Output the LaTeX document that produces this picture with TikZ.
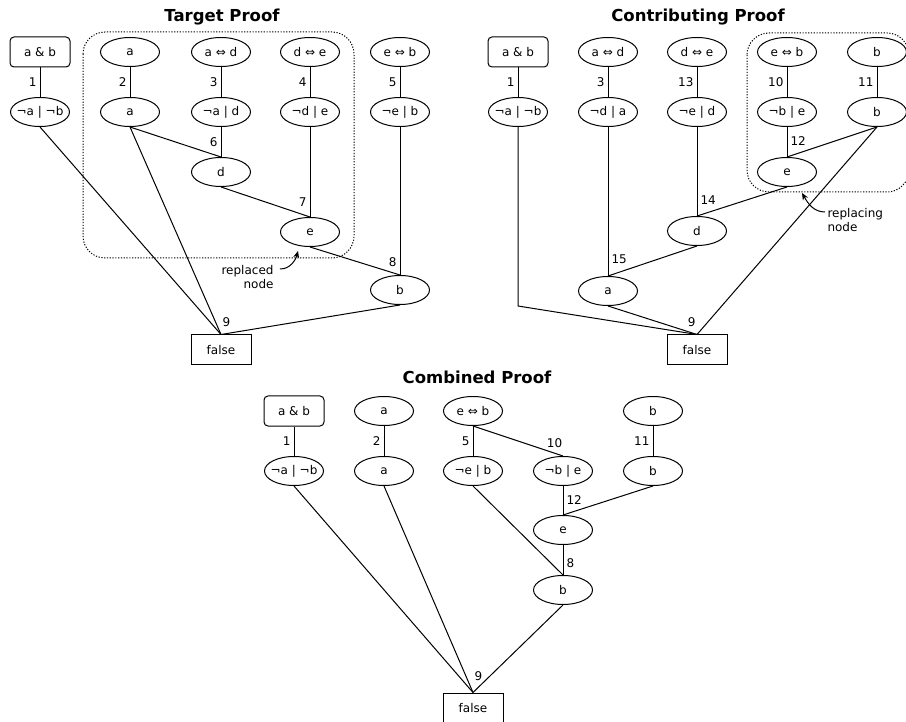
\documentclass[tikz,border=0pt]{standalone}
\usepackage{fontspec}
\setmainfont{DejaVu Sans}
\usepackage{tikz}
\usetikzlibrary{positioning, arrows, arrows.meta, shapes, shapes.geometric}
\newcommand{\pffont}{\fontsize{12}{14}\selectfont}
\newcommand{\pftitlefont}{\fontsize{16.5}{19}\selectfont\bfseries}
\tikzset{pfbox/.style={draw, rectangle, rounded corners=4, minimum width=60pt, minimum height=30pt, inner sep=0pt, font=\pffont}}
\tikzset{pffalse/.style={draw, rectangle, minimum width=60pt, minimum height=30pt, inner sep=0pt, font=\pffont}}
\tikzset{pfell/.style={draw, ellipse, minimum width=59pt, minimum height=29pt, inner xsep=-3pt, inner ysep=0pt, font=\pffont}}
\tikzset{ptitle/.style={font=\pftitlefont, inner sep=0pt}}
\tikzset{lbl/.style={inner sep=3pt, font=\pffont}}
\tikzset{region/.style={dash pattern=on 1.2pt off 1.6pt, line width=1pt, rounded corners=22}}
\tikzset{pfnote/.style={font=\pffont, inner sep=0pt}}
\tikzset{pointer/.style={draw, -{Stealth[length=7pt, width=6pt]}, line width=1pt}}

\begin{document}
\begin{tikzpicture}[x=1pt, y=-1pt, line width=1pt]
    \useasboundingbox (0,0) rectangle (906,722);

    % target proof
    \node[ptitle] (ttitle) at (222,17) {Target Proof};
    \draw[region] (83,32) rectangle (354,258);
    \node[pfbox] (t0) at (40,52) {a \& b};
    \node[pfell] (t1) at (40,112) {¬a | ¬b};
    \node[pfell] (ta) at (130,52) {a};
    \node[pfell] (tab) at (130,112) {a};
    \node[pfell] (tad) at (221,52) {a ⇔ d};
    \node[pfell] (tnad) at (221,112) {¬a | d};
    \node[pfell] (tde) at (310,52) {d ⇔ e};
    \node[pfell] (tnde) at (310,112) {¬d | e};
    \node[pfell] (teb) at (400,52) {e ⇔ b};
    \node[pfell] (tneb) at (400,112) {¬e | b};
    \node[pfell] (td) at (221,172) {d};
    \node[pfell] (te) at (310,232) {e};
    \node[pfell] (tb) at (400,290) {b};
    \node[pffalse] (tf) at (221,350) {false};

    \draw (t0.south) -- node[lbl, left] {1} (t1.north);
    \draw (ta.south) -- node[lbl, left] {2} (tab.north);
    \draw (tad.south) -- node[lbl, left] {3} (tnad.north);
    \draw (tde.south) -- node[lbl, left] {4} (tnde.north);
    \draw (teb.south) -- node[lbl, left] {5} (tneb.north);
    \draw (tnad.south) -- node[lbl, left] {6} (td.north);
    \draw (tab.south) -- (td.north);
    \draw (tnde.south) -- node[lbl, left, pos=0.84] {7} (te.north);
    \draw (td.south) -- (te.north);
    \draw (tneb.south) -- node[lbl, left, pos=0.91] {8} (tb.north);
    \draw (te.south) -- (tb.north);
    \draw (t1.south) -- (tf.north);
    \draw (tab.south) -- node[lbl, pos=1, anchor=south west, inner sep=1pt, yshift=6pt] {9} (tf.north);
    \draw (tb.south) -- (tf.north);

    \node[pfnote, align=right, anchor=east] (tnote) at (274,277) {replaced\\node};
    \coordinate (tmark) at (298,251);
    \draw[pointer] ([xshift=6pt, yshift=8pt]tnote.east) to[out=0, in=-105] (tmark);

    % contributing proof
    \node[ptitle] (ctitle) at (698,17) {Contributing Proof};
    \draw[region] (747,33) rectangle (909,192);
    \node[pfbox] (c0) at (518,52) {a \& b};
    \node[pfell] (c1) at (518,112) {¬a | ¬b};
    \node[pfell] (cad) at (608,52) {a ⇔ d};
    \node[pfell] (cnda) at (608,112) {¬d | a};
    \node[pfell] (cde) at (697,52) {d ⇔ e};
    \node[pfell] (cned) at (697,112) {¬e | d};
    \node[pfell] (ceb) at (787,52) {e ⇔ b};
    \node[pfell] (cnbe) at (787,112) {¬b | e};
    \node[pfell] (cb) at (877,52) {b};
    \node[pfell] (cbb) at (877,112) {b};
    \node[pfell] (ce) at (787,172) {e};
    \node[pfell] (cd) at (697,231) {d};
    \node[pfell] (ca) at (608,291) {a};
    \node[pffalse] (cf) at (697,350) {false};

    \draw (c0.south) -- node[lbl, left] {1} (c1.north);
    \draw (cad.south) -- node[lbl, left] {3} (cnda.north);
    \draw (cde.south) -- node[lbl, left] {13} (cned.north);
    \draw (ceb.south) -- node[lbl, left] {10} (cnbe.north);
    \draw (cb.south) -- node[lbl, left] {11} (cbb.north);
    \draw (cnbe.south) -- node[lbl, right, pos=0.47] {12} (ce.north);
    \draw (cbb.south) -- (ce.north);
    \draw (cned.south) -- node[lbl, right, pos=0.82] {14} (cd.north);
    \draw (ce.south) -- (cd.north);
    \draw (cnda.south) -- node[lbl, right, pos=0.89] {15} (ca.north);
    \draw (cd.south) -- (ca.north);
    \draw (c1.south) -- (c1.south |- ca.south) -- (cf.north);
    \draw (ca.south) -- node[lbl, pos=1, anchor=south east, inner sep=1pt, yshift=6pt] {9} (cf.north);
    \draw (cbb.south) -- (cf.north);

    \node[pfnote, align=left, anchor=west] (cnote) at (827,220) {replacing\\node};
    \coordinate (cmark) at (802,193);
    \draw[pointer] ([xshift=-2pt, yshift=8pt]cnote.west) to[out=180, in=-60] (cmark);

    % combined proof
    \node[ptitle] (ktitle) at (477,377) {Combined Proof};
    \node[pfbox] (k0) at (294,411) {a \& b};
    \node[pfell] (k1) at (294,471) {¬a | ¬b};
    \node[pfell] (ka) at (384,411) {a};
    \node[pfell] (kab) at (384,471) {a};
    \node[pfell] (keb) at (473,411) {e ⇔ b};
    \node[pfell] (kneb) at (473,471) {¬e | b};
    \node[pfell] (knbe) at (563,471) {¬b | e};
    \node[pfell] (kb) at (653,411) {b};
    \node[pfell] (kbb) at (653,471) {b};
    \node[pfell] (ke) at (563,530) {e};
    \node[pfell] (kbf) at (563,590) {b};
    \node[pffalse] (kf) at (473,708) {false};

    \draw (k0.south) -- node[lbl, left] {1} (k1.north);
    \draw (ka.south) -- node[lbl, left] {2} (kab.north);
    \draw (keb.south) -- node[lbl, left] {5} (kneb.north);
    \draw (keb.south) -- node[lbl, above, pos=0.85, xshift=5pt] {10} (knbe.north);
    \draw (kb.south) -- node[lbl, left] {11} (kbb.north);
    \draw (knbe.south) -- node[lbl, right, pos=0.48] {12} (ke.north);
    \draw (kbb.south) -- (ke.north);
    \draw (ke.south) -- node[lbl, right, pos=0.6] {8} (kbf.north);
    \draw (kneb.south) -- (kbf.north);
    \draw (k1.south) -- (kf.north);
    \draw (kab.south) -- (kf.north);
    \draw (kbf.south) -- node[lbl, pos=1, anchor=south west, inner sep=1pt, yshift=10pt] {9} (kf.north);
\end{tikzpicture}
\end{document}
